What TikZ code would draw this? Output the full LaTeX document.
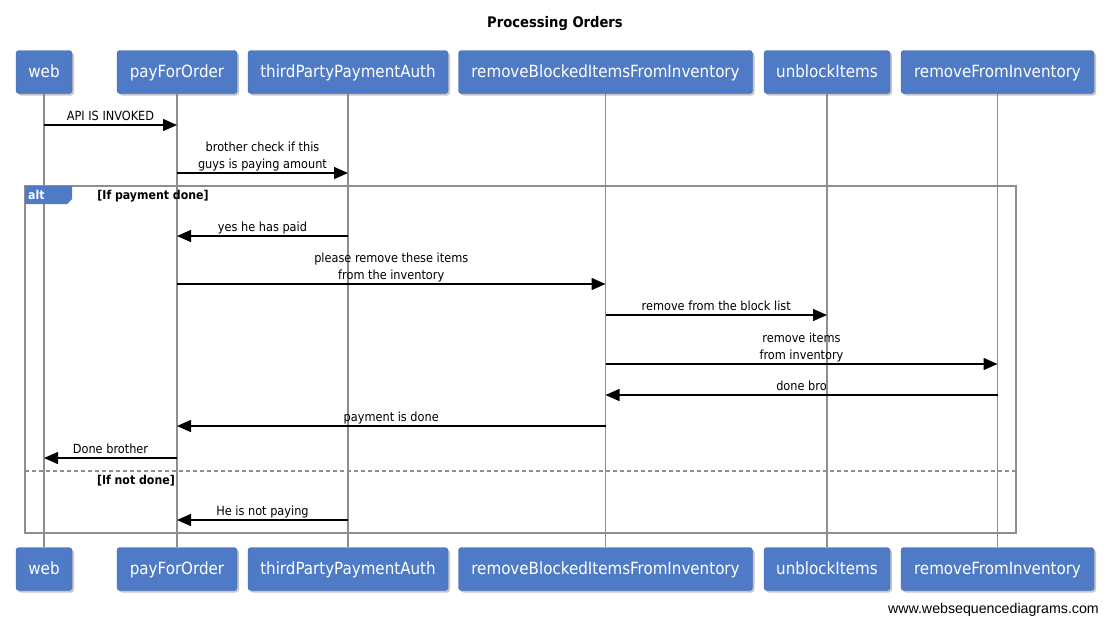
\documentclass[tikz,border=0pt]{standalone}
\usepackage{fontspec}
\setmainfont{DejaVu Sans Condensed}
\newfontfamily\sitefont{Liberation Sans}
\usetikzlibrary{positioning,arrows.meta,shadows,calc,backgrounds}

\begin{document}
\begin{tikzpicture}[x=1pt,y=-1pt]
      \definecolor{actorblue}{HTML}{4F7BC6}
      \definecolor{actorborder}{HTML}{3E66AC}
      \definecolor{lifegray}{HTML}{8E8E8E}

      \newcommand{\actorname}[1]{\fontsize{16.8}{19}\selectfont #1}
      \newcommand{\msgtext}[1]{\fontsize{12.6}{17}\selectfont \begin{tabular}{c}#1\end{tabular}}
      \newcommand{\guardtext}[1]{\fontsize{12.2}{14}\selectfont \bfseries #1}

      \tikzstyle{actor}    = [rectangle, rounded corners=3pt, fill=actorblue, draw=actorborder, text=white, minimum height=43pt, inner sep=0pt, text height=12pt, text depth=1pt, drop shadow={shadow xshift=2pt, shadow yshift=-2pt, opacity=0.45}]
      \tikzstyle{lifeline} = [draw=lifegray, line width=1.6pt]
      \tikzstyle{message}  = [line width=1.4pt, -{Triangle[length=14pt, width=12pt]}]
      \tikzstyle{msglabel} = [midway, anchor=south, inner sep=0pt, yshift=-1.5pt]
      \tikzstyle{frame}    = [draw=lifegray, line width=1.6pt]

      \useasboundingbox (0,0) rectangle (1109,625);

      \node [font=\fontsize{14.6}{17}\selectfont\bfseries] (title) at (555,24) {Processing Orders};

      % participants, top row
      \node [actor, minimum width=56pt]  (web)     at (44,72)    {\actorname{web}};
      \node [actor, minimum width=120pt] (pay)     at (177,72)   {\actorname{payForOrder}};
      \node [actor, minimum width=200pt] (third)   at (348,72)   {\actorname{thirdPartyPaymentAuth}};
      \node [actor, minimum width=294pt] (blocked) at (605.5,72) {\actorname{removeBlockedItemsFromInventory}};
      \node [actor, minimum width=126pt] (unblock) at (827,72)   {\actorname{unblockItems}};
      \node [actor, minimum width=193pt] (remove)  at (997.5,72) {\actorname{removeFromInventory}};

      % participants, bottom row
      \node [actor, minimum width=56pt]  (webb)     at (44,569)    {\actorname{web}};
      \node [actor, minimum width=120pt] (payb)     at (177,569)   {\actorname{payForOrder}};
      \node [actor, minimum width=200pt] (thirdb)   at (348,569)   {\actorname{thirdPartyPaymentAuth}};
      \node [actor, minimum width=294pt] (blockedb) at (605.5,569) {\actorname{removeBlockedItemsFromInventory}};
      \node [actor, minimum width=126pt] (unblockb) at (827,569)   {\actorname{unblockItems}};
      \node [actor, minimum width=193pt] (removeb)  at (997.5,569) {\actorname{removeFromInventory}};

      \begin{scope}[on background layer]
        \draw [lifeline] (web)     -- (webb);
        \draw [lifeline] (pay)     -- (payb);
        \draw [lifeline] (third)   -- (thirdb);
        \draw [lifeline] (blocked) -- (blockedb);
        \draw [lifeline] (unblock) -- (unblockb);
        \draw [lifeline] (remove)  -- (removeb);
      \end{scope}

      \draw [message] (web |- 0,125)   -- (pay |- 0,125)   node [msglabel] {\msgtext{API IS INVOKED}};
      \draw [message] (pay |- 0,173)   -- (third |- 0,173) node [msglabel] {\msgtext{brother check if this\\guys is paying amount}};

      % alt frame
      \draw [frame] (25,186) rectangle (1016,533);
      \fill [actorblue] (25,186) -- (72,186) -- (72,199) -- (67,204) -- (25,204) -- cycle;
      \node [anchor=west, text=white, inner sep=0pt] (alttag) at (28,195) {\guardtext{alt}};
      \node [inner sep=0pt] (paidguard) at (153,196) {\guardtext{[If payment done]}};

      \draw [message] (third |- 0,236)   -- (pay |- 0,236)     node [msglabel] {\msgtext{yes he has paid}};
      \draw [message] (pay |- 0,284)     -- (blocked |- 0,284) node [msglabel] {\msgtext{please remove these items\\from the inventory}};
      \draw [message] (blocked |- 0,315) -- (unblock |- 0,315) node [msglabel] {\msgtext{remove from the block list}};
      \draw [message] (blocked |- 0,364) -- (remove |- 0,364)  node [msglabel] {\msgtext{remove items\\from inventory}};
      \draw [message] (remove |- 0,395)  -- (blocked |- 0,395) node [msglabel] {\msgtext{done bro}};
      \draw [message] (blocked |- 0,426) -- (pay |- 0,426)     node [msglabel] {\msgtext{payment is done}};
      \draw [message] (pay |- 0,458)     -- (web |- 0,458)     node [msglabel] {\msgtext{Done brother}};

      \draw [draw=lifegray, line width=1.2pt, dash pattern=on 4pt off 3pt] (25,471) -- (1016,471);
      \node [anchor=east, inner sep=0pt] (notguard) at (175,481) {\guardtext{[If not done]}};

      \draw [message] (third |- 0,520) -- (pay |- 0,520) node [msglabel] {\msgtext{He is not paying}};

      \node [anchor=east, inner sep=0pt, font=\sitefont\fontsize{14.2}{16}\selectfont] (site) at (1099,610) {www.websequencediagrams.com};
\end{tikzpicture}
\end{document}
